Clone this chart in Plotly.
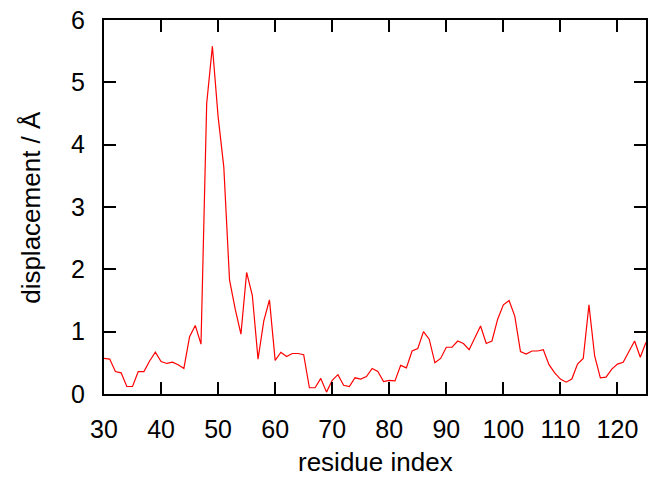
import plotly.graph_objects as go

residue = list(range(30, 126))
displacement = [
    0.57, 0.56, 0.36, 0.34, 0.12, 0.12, 0.36, 0.36, 0.53, 0.67,
    0.52, 0.49, 0.51, 0.47, 0.41, 0.92, 1.10, 0.80, 4.66, 5.58,
    4.45, 3.64, 1.83, 1.36, 0.96, 1.95, 1.58, 0.56, 1.17, 1.51,
    0.54, 0.67, 0.60, 0.65, 0.65, 0.63, 0.10, 0.10, 0.25, 0.03,
    0.22, 0.31, 0.14, 0.12, 0.26, 0.24, 0.28, 0.41, 0.36, 0.20,
    0.22, 0.21, 0.46, 0.42, 0.69, 0.73, 1.00, 0.88, 0.50, 0.57,
    0.75, 0.75, 0.85, 0.81, 0.71, 0.91, 1.09, 0.81, 0.85, 1.20,
    1.43, 1.50, 1.25, 0.68, 0.64, 0.69, 0.69, 0.71, 0.47, 0.34,
    0.24, 0.19, 0.24, 0.48, 0.57, 1.43, 0.61, 0.26, 0.27, 0.40,
    0.48, 0.51, 0.69, 0.85, 0.59, 0.83,
]

fig = go.Figure(go.Scatter(
    x=residue, y=displacement,
    mode='lines',
    line=dict(color='red', width=1.2),
    showlegend=False
))

axis_style = dict(
    showgrid=False, zeroline=False, automargin=False,
    showline=True, linecolor='black', linewidth=2, mirror='allticks',
    ticks='inside', ticklen=12, tickwidth=2, tickcolor='black',
    tickfont=dict(size=25, color='black'),
    ticklabelstandoff=12,
)

fig.update_layout(
    width=648, height=480,
    font=dict(family='Liberation Sans, Arial, sans-serif', color='black'),
    plot_bgcolor='white', paper_bgcolor='white',
    margin=dict(l=104, r=2, t=20, b=86),
    xaxis=dict(range=[30, 125], dtick=10, **axis_style),
    yaxis=dict(range=[0, 6], dtick=1, **axis_style),
    # axis titles placed by hand so the margins stay fixed
    annotations=[
        dict(text='residue index', xref='paper', yref='paper',
             x=0.5, y=-0.182, xanchor='center', yanchor='middle',
             showarrow=False, font=dict(size=26)),
        dict(text='displacement / Å', xref='paper', yref='paper',
             x=-0.135, y=0.5, xanchor='center', yanchor='middle',
             textangle=-90, showarrow=False, font=dict(size=26)),
    ],
)

# the page body has a default 8px margin, drop it so the figure fills the window
fig.write_html("out.html", config={'displayModeBar': False},
               post_script="document.body.style.margin='0';")
